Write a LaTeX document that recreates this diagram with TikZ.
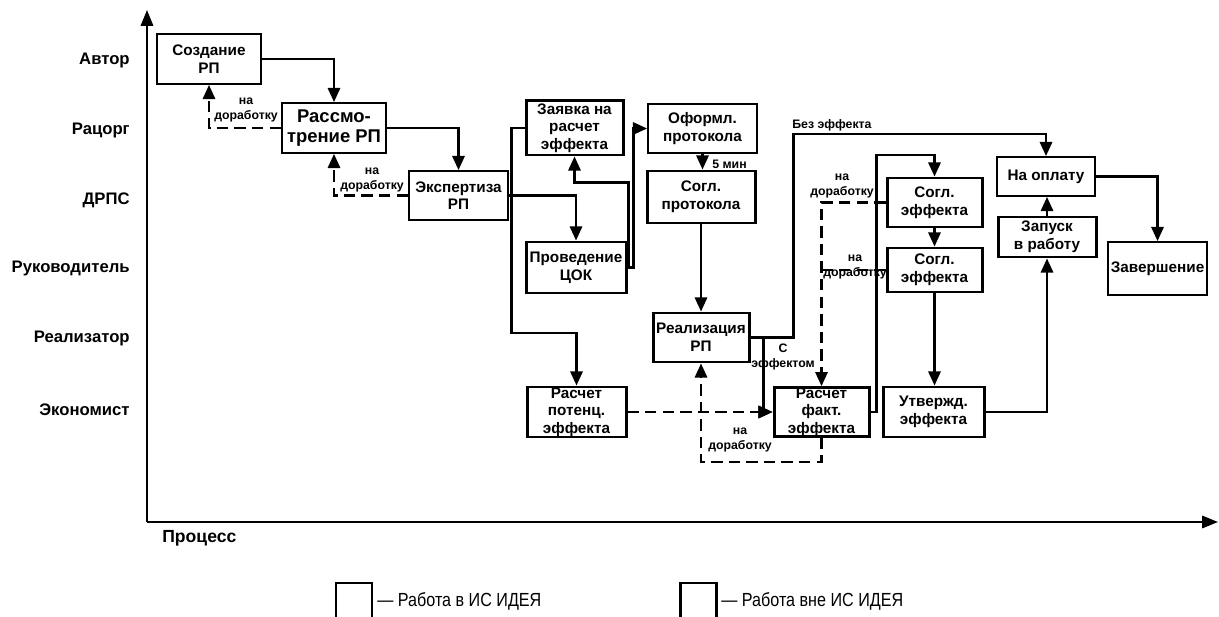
\documentclass[tikz,border=0pt]{standalone}
\usepackage{fontspec}
\setmainfont{Liberation Sans}
\newfontfamily\narrowfont[FakeStretch=0.85]{Liberation Sans}
\usetikzlibrary{arrows.meta,calc}
\begin{document}
\begin{tikzpicture}[x=0.02cm,y=-0.02cm,
  conn/.style={line width=1.2pt,-{Triangle[length=8pt,width=7pt]}},
  plain/.style={line width=1.2pt},
  dconn/.style={conn,dash pattern=on 6.5pt off 3.5pt},
  dplain/.style={plain,dash pattern=on 6.5pt off 3.5pt},
  axis/.style={line width=1.2pt,-{Triangle[length=9pt,width=7pt]}},
  wh/.style 2 args={minimum width=#1*0.02cm,minimum height=#2*0.02cm},
  tbox/.style={draw,line width=1.1pt,inner sep=0pt,align=center,font=\fontsize{8.7}{10}\selectfont\bfseries},
  kbox/.style={tbox,line width=1.7pt},
  lab/.style={font=\fontsize{7}{8.5}\selectfont\bfseries,align=center,inner sep=0pt},
  lane/.style={anchor=east,font=\fontsize{9.5}{11}\selectfont\bfseries,inner sep=0pt},
  legtext/.style={anchor=west,inner sep=0pt,font=\narrowfont\fontsize{10.8}{12}\selectfont},
]
\useasboundingbox (0,0) rectangle (1219,617);

% axes
\coordinate (origin) at (147,522);
\coordinate (ytop) at (147,10);
\coordinate (xend) at (1218,522);
\draw[axis] (origin) -- (ytop);
\draw[axis] (origin) -- (xend);

% lane labels
\node[lane] (l1) at (130,60) {Автор};
\node[lane] (l2) at (130,130) {Рацорг};
\node[lane] (l3) at (130,200) {ДРПС};
\node[lane] (l4) at (130,268) {Руководитель};
\node[lane] (l5) at (130,338) {Реализатор};
\node[lane] (l6) at (130,410) {Экономист};
\node[anchor=west,inner sep=0pt,font=\fontsize{10}{12}\selectfont\bfseries] (proc) at (162,538) {Процесс};

% boxes
\node[tbox,wh={104}{50}] (sozd) at (209,59) {Создание\\РП};
\node[tbox,wh={104}{50},font=\fontsize{10.5}{11.8}\selectfont\bfseries] (rass) at (334,128) {Рассмо-\\трение РП};
\node[tbox,wh={99}{49}] (eksp) at (458.5,195.5) {Экспертиза\\РП};
\node[kbox,wh={97}{54}] (zayav) at (574.5,128) {Заявка на\\расчет\\эффекта};
\node[kbox,wh={100}{51}] (cok) at (576,267.5) {Проведение\\ЦОК};
\node[tbox,wh={109}{49}] (oform) at (702.5,128.5) {Оформл.\\протокола};
\node[kbox,wh={108}{52}] (soglp) at (701,197) {Согл.\\протокола};
\node[kbox,wh={96}{49}] (real) at (701,337.5) {Реализация\\РП};
\node[kbox,wh={99}{50}] (potenc) at (576.5,412) {Расчет\\потенц.\\эффекта};
\node[kbox,wh={95}{48}] (fakt) at (821.5,412) {Расчет\\факт.\\эффекта};
\node[kbox,wh={95}{49}] (sogl1) at (934.5,202.5) {Согл.\\эффекта};
\node[kbox,wh={95}{44}] (sogl2) at (934.5,270) {Согл.\\эффекта};
\node[kbox,wh={101}{50}] (utv) at (933.5,412) {Утвержд.\\эффекта};
\node[tbox,wh={98}{39}] (oplata) at (1046,176.5) {На оплату};
\node[kbox,wh={98}{40}] (zapusk) at (1047,237) {Запуск\\в работу};
\node[tbox,wh={99}{53}] (zaver) at (1157.5,268.5) {Завершение};

% connectors
\draw[conn] (sozd.east) -| (rass.north);
\draw[dconn] (rass.west) -| (sozd.south);
\node[lab] (n1) at (246,110) {на\\доработку};
\draw[conn] (rass.east) -| (eksp.north);
\draw[dconn] (eksp.west) -| (rass.south);
\node[lab] (n2) at (372,180) {на\\доработку};
\draw[conn] (eksp.east) -| (cok.north);
\draw[conn] (zayav.west) -- ++(-13,0) -- ++(0,205) -| (potenc.north);
\draw[conn] (cok.east) -- ++(1,0) -- ++(0,-85) -| (zayav.south);
\draw[conn] (cok.east) -- ++(6,0) |- (oform.west);
\draw[conn] (oform.south) -- (oform.south |- soglp.north);
\node[lab,anchor=west] (min5) at (712,164) {5 мин};
\draw[conn] (soglp.south) -- (real.north);
\draw[dconn] (potenc.east) -- (fakt.west);
\draw[conn] (real.east) -- ++(13,0) |- (fakt.west);
\node[lab] (seff) at (783,357) {С\\эффектом};
\draw[conn] (real.east) -- ++(43,0) -- ++(0,-203.5) -| (oplata.north);
\node[lab,anchor=south west] (beff) at (792,131) {Без эффекта};
\draw[dconn] (fakt.south) -- ++(0,24) -| (real.south);
\node[lab] (n3) at (740,440) {на\\доработку};
\draw[conn] (fakt.east) -- ++(6,0) -- ++(0,-257) -| (sogl1.north);
\draw[dconn] (sogl1.west) -| (fakt.north);
\node[lab] (n4) at (842,186) {на\\доработку};
\draw[dplain] (sogl2.west) -- (sogl2.west -| fakt.north);
\node[lab] (n5) at (855,267) {на\\доработку};
\draw[conn] (sogl1.south) -- (sogl2.north);
\draw[conn] (sogl2.south) -- (sogl2.south |- utv.north);
\draw[conn] (utv.east) -| (zapusk.south);
\draw[conn] (zapusk.north) -- (zapusk.north |- oplata.south);
\draw[conn] (oplata.east) -| (zaver.north);

% legend
\draw[line width=1.1pt] (336,625) -- (336,583) -- (372,583) -- (372,625);
\node[legtext] (lg1) at (377,601) {— Работа в ИС ИДЕЯ};
\draw[line width=1.7pt] (680,625) -- (680,583) -- (716,583) -- (716,625);
\node[legtext] (lg2) at (721,601) {— Работа вне ИС ИДЕЯ};
\end{tikzpicture}
\end{document}
